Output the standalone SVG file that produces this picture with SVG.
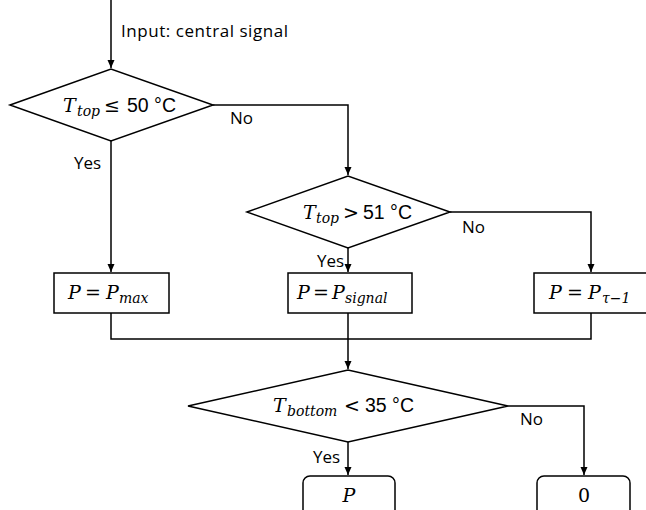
<svg xmlns="http://www.w3.org/2000/svg" width="646" height="510" viewBox="0 0 646 510">
<defs>
<marker id="ah" viewBox="0 0 8 10" refX="8" refY="5" markerWidth="8" markerHeight="10" markerUnits="userSpaceOnUse" orient="auto">
<path d="M0,1.5 L8,5 L0,8.5 Z" fill="#000"/>
</marker>
<style>
.sh{fill:#fff;stroke:#000;stroke-width:1.5}
.ln{fill:none;stroke:#000;stroke-width:1.5}
.lbl{font-family:"Open Sans","Liberation Sans",sans-serif;font-size:17px;fill:#000}
.m{font-family:"DejaVu Serif","Liberation Serif",serif;font-size:19px;font-style:italic;fill:#000}
.op{font-family:"DejaVu Serif","Liberation Serif",serif;font-size:19px;font-style:normal}
.sub{font-size:14px}
.u{font-family:"Liberation Sans","Open Sans",sans-serif;font-size:19.5px;font-style:normal}
</style>
</defs>
<rect width="646" height="510" fill="#fff"/>
<g id="connectors">
<path class="ln" d="M111,0 V68" marker-end="url(#ah)"/>
<path class="ln" d="M213,105 H348 V175" marker-end="url(#ah)"/>
<path class="ln" d="M111,141 V272" marker-end="url(#ah)"/>
<path class="ln" d="M348,248 V272" marker-end="url(#ah)"/>
<path class="ln" d="M450,212 H591 V272" marker-end="url(#ah)"/>
<path class="ln" d="M111,313 V339 H591 V313"/>
<path class="ln" d="M348,313 V369" marker-end="url(#ah)"/>
<path class="ln" d="M348,442 V475" marker-end="url(#ah)"/>
<path class="ln" d="M508,406 H584 V475" marker-end="url(#ah)"/>
<text class="lbl" x="121" y="37" textLength="167">Input: central signal</text>
<text class="lbl" x="230" y="124">No</text>
<text class="lbl" x="74" y="169">Yes</text>
<text class="lbl" x="462" y="233">No</text>
<text class="lbl" x="317" y="267">Yes</text>
<text class="lbl" x="520" y="425">No</text>
<text class="lbl" x="313" y="463">Yes</text>
</g>
<g id="d1">
<polygon class="sh" points="10,105 111,69 213,105 111,141"/>
<text class="m" y="112"><tspan x="63">T</tspan><tspan class="sub" x="77" y="116">top</tspan><tspan class="op" x="104" y="112">≤</tspan><tspan class="u" x="127" y="112">50 °C</tspan></text>
</g>
<g id="d2">
<polygon class="sh" points="247,212 348,176 450,212 348,248"/>
<text class="m" y="219"><tspan x="303">T</tspan><tspan class="sub" x="316" y="223">top</tspan><tspan class="op" x="343" y="219">&gt;</tspan><tspan class="u" x="363" y="219">51 °C</tspan></text>
</g>
<g id="b1">
<rect class="sh" x="54" y="273" width="115" height="40"/>
<text class="m" y="299"><tspan x="68">P</tspan><tspan class="op" x="85">=</tspan><tspan x="106">P</tspan><tspan class="sub" x="119" y="303">max</tspan></text>
</g>
<g id="b2">
<rect class="sh" x="288" y="273" width="124" height="40"/>
<text class="m" y="299"><tspan x="297">P</tspan><tspan class="op" x="313">=</tspan><tspan x="332">P</tspan><tspan class="sub" x="345" y="303">signal</tspan></text>
</g>
<g id="b3">
<rect class="sh" x="534" y="273" width="125" height="40"/>
<text class="m" y="299"><tspan x="549">P</tspan><tspan class="op" x="567">=</tspan><tspan x="588">P</tspan><tspan class="sub" x="602" y="303">τ−1</tspan></text>
</g>
<g id="d3">
<polygon class="sh" points="188,406 348,370 508,406 348,442"/>
<text class="m" y="412"><tspan x="273">T</tspan><tspan class="sub" x="287" y="416">bottom</tspan><tspan class="op" x="344" y="412">&lt;</tspan><tspan class="u" x="365" y="412">35 °C</tspan></text>
</g>
<g id="o1">
<rect class="sh" x="303" y="476" width="92" height="50" rx="7"/>
<text class="m" x="349" y="502" text-anchor="middle">P</text>
</g>
<g id="o2">
<rect class="sh" x="537" y="476" width="93" height="50" rx="7"/>
<text class="m" x="584" y="502" text-anchor="middle" style="font-style:normal">0</text>
</g>
</svg>
